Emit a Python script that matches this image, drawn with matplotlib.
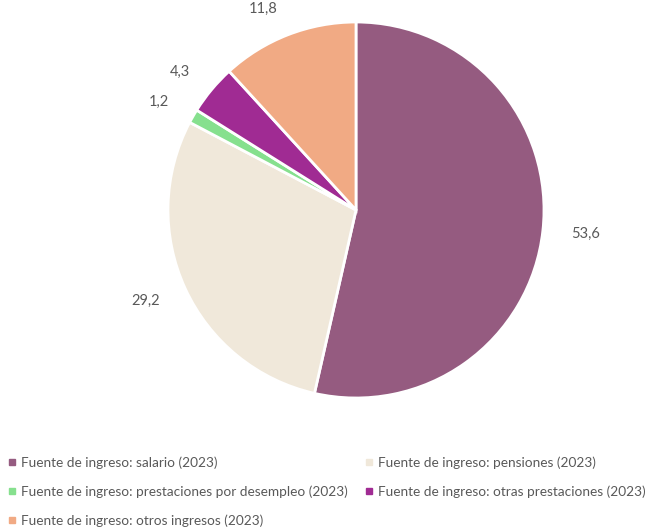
import matplotlib
matplotlib.use("Agg")
import matplotlib.pyplot as plt
from matplotlib.lines import Line2D

categories = [
    "Fuente de ingreso: salario (2023)",
    "Fuente de ingreso: pensiones (2023)",
    "Fuente de ingreso: prestaciones por desempleo (2023)",
    "Fuente de ingreso: otras prestaciones (2023)",
    "Fuente de ingreso: otros ingresos (2023)",
]
values = [53.6, 29.2, 1.2, 4.3, 11.8]
labels = ["53,6", "29,2", "1,2", "4,3", "11,8"]
colors = ["#955B80", "#F0E8DA", "#86E08E", "#A02B93", "#F1AA84"]

plt.rcParams['font.family'] = ['Lato', 'DejaVu Sans']
txt = "#595959"

fig = plt.figure(figsize=(6.46, 5.32), dpi=100)
W, H = 646, 532
cx, cy, r = 356, 210, 188
ax = fig.add_axes([(cx - r) / W, 1 - (cy + r) / H, 2 * r / W, 2 * r / H])
wedges, texts = ax.pie(values, labels=labels, colors=colors, startangle=90,
                       counterclock=False, labeldistance=1.15,
                       wedgeprops=dict(edgecolor="white", linewidth=2),
                       textprops=dict(color=txt, fontsize=10.5))
ax.set_aspect("equal")
ax.set_xlim(-1, 1)
ax.set_ylim(-1, 1)
ax.axis("off")

handles = [Line2D([], [], marker="s", linestyle="none", markersize=5,
                  markerfacecolor=c, markeredgecolor=c) for c in colors]
# row-major order for a 2-column legend
order = [0, 2, 4, 1, 3]
leg = fig.legend([handles[i] for i in order], [categories[i] for i in order],
                 loc="upper left", bbox_to_anchor=(0.005, 1 - 451 / H),
                 ncol=2, frameon=False, fontsize=9.8, labelcolor=txt,
                 handlelength=0.5, handletextpad=0.4, columnspacing=1.35,
                 labelspacing=1.2, borderaxespad=0)
fig.savefig("out.png", dpi=100)
